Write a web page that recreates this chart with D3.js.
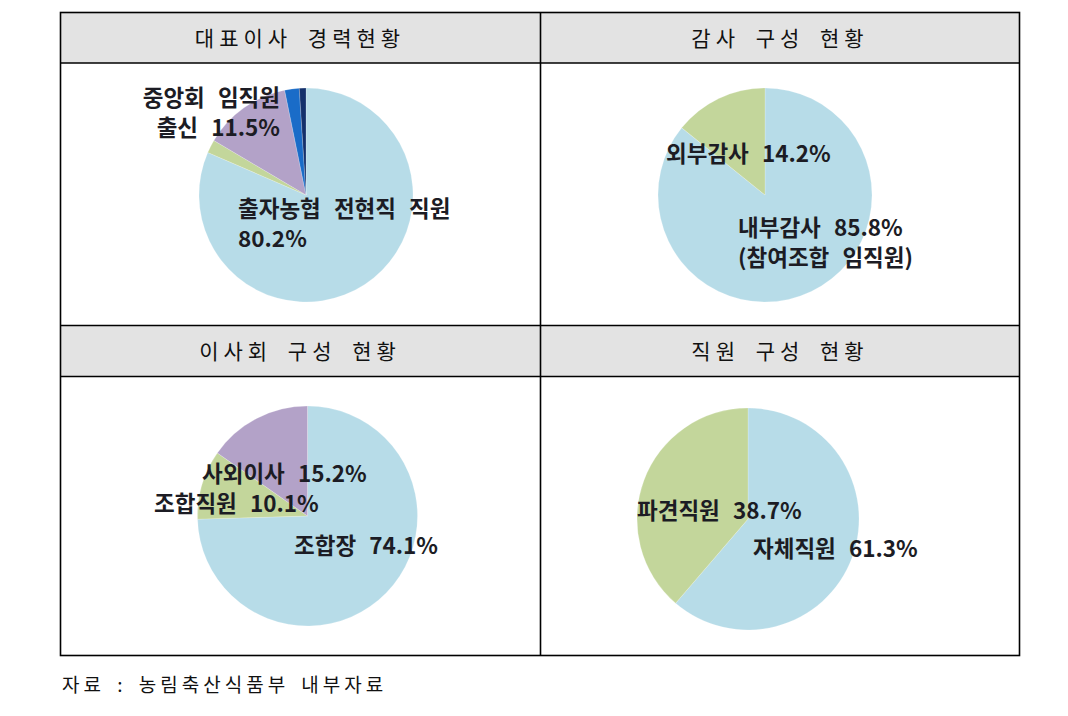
<!DOCTYPE html>
<html><head><meta charset="utf-8">
<script src="https://cdn.jsdelivr.net/npm/d3@7"></script>
<style>body{margin:0;background:#fff}svg{display:block}</style>
</head><body>
<script>
// ---- data ----
const titles = ["대표이사 경력현황", "감사 구성 현황", "이사회 구성 현황", "직원 구성 현황"];
const ceoCategories = ["출자농협 전현직 직원", "기타", "중앙회 임직원 출신", "기타2", "기타3"];
const ceoValues = [81.5, 2.0, 13.3, 2.2, 1.0];
const auditCategories = ["내부감사", "외부감사"];
const auditValues = [85.8, 14.2];
const boardCategories = ["조합장", "조합직원", "사외이사"];
const boardValues = [74.1, 10.1, 15.2];
const staffCategories = ["자체직원", "파견직원"];
const staffValues = [61.3, 38.7];
const ceoLabels = [["중앙회 임직원", "출신 11.5%"], ["출자농협 전현직 직원", "80.2%"]];
const auditLabels = [["외부감사 14.2%"], ["내부감사 85.8%", "(참여조합 임직원)"]];
const boardLabels = [["사외이사 15.2%"], ["조합직원 10.1%"], ["조합장 74.1%"]];
const staffLabels = [["파견직원 38.7%"], ["자체직원 61.3%"]];
const source = "자료 : 농림축산식품부 내부자료";

const W = 1068, H = 716;
const svg = d3.select("body").append("svg").attr("width", W).attr("height", H);

const C = {lb: "#b7dce8", gr: "#c3d69b", pu: "#b3a2c8", bl: "#1a6cc8", nv: "#14306b"};
const font = "'Noto Sans CJK KR','Malgun Gothic',sans-serif";

// table
const x0 = 60.5, x1 = 540.5, x2 = 1019.5;
const rows = [{top: 12.5, hb: 63, bot: 325.5}, {top: 325.5, hb: 376.5, bot: 655.5}];
rows.forEach(r => {
  svg.append("rect").attr("x", x0).attr("y", r.top).attr("width", x2 - x0).attr("height", r.hb - r.top)
    .attr("fill", "#e3e3e3");
});
const g = svg.append("g").attr("stroke", "#000").attr("stroke-width", 1.6).attr("fill", "none");
g.append("rect").attr("x", x0).attr("y", 12.5).attr("width", x2 - x0).attr("height", 655.5 - 12.5);
[63, 325.5, 376.5].forEach(y => g.append("line").attr("x1", x0).attr("x2", x2).attr("y1", y).attr("y2", y));
g.append("line").attr("x1", x1).attr("x2", x1).attr("y1", 12.5).attr("y2", 655.5);

// titles
const titlePos = [[300, 38], [780, 38], [300, 351], [780, 351]];
titles.forEach((t, i) => {
  svg.append("text").attr("x", titlePos[i][0]).attr("y", titlePos[i][1]).attr("dy", "0.36em")
    .attr("text-anchor", "middle").attr("font-family", font).attr("font-size", 21)
    .attr("letter-spacing", "5px").attr("word-spacing", "6px").attr("fill", "#111").text(t);
});

function pie(cx, cy, r, values, colors) {
  const arcs = d3.pie().sort(null).value(d => d)(values);
  const arc = d3.arc().innerRadius(0).outerRadius(r);
  svg.append("g").attr("transform", `translate(${cx},${cy})`)
    .selectAll("path").data(arcs).join("path")
    .attr("d", arc).attr("fill", (d, i) => colors[i])
    .attr("stroke", "#fff").attr("stroke-width", 0.5).attr("stroke-opacity", 0.4);
}
pie(306, 195, 107, ceoValues, [C.lb, C.gr, C.pu, C.bl, C.nv]);
pie(765, 195, 107, auditValues, [C.lb, C.gr]);
pie(307.5, 516, 110, boardValues, [C.lb, C.gr, C.pu]);
pie(748, 519, 111, staffValues, [C.lb, C.gr]);

function label(lines, x, y, anchor) {
  lines.forEach((l, i) => {
    svg.append("text").attr("x", x).attr("y", y + i * 30).attr("text-anchor", anchor || "start")
      .attr("font-family", font).attr("font-size", 22.5).attr("font-weight", 700)
      .attr("word-spacing", "8px").attr("fill", "#1c1c24").text(l);
  });
}
label(ceoLabels[0], 280, 106, "end");
label(ceoLabels[1], 238, 217);
label(auditLabels[0], 666, 162);
label(auditLabels[1], 738, 236);
label(boardLabels[0], 202, 482);
label(boardLabels[1], 154, 512);
label(boardLabels[2], 294, 554);
label(staffLabels[0], 637, 519);
label(staffLabels[1], 753, 557);

svg.append("text").attr("x", 62).attr("y", 692).attr("font-family", font).attr("font-size", 19)
  .attr("letter-spacing", "4px").attr("word-spacing", "4px").attr("fill", "#111").text(source);
</script>
</body></html>
